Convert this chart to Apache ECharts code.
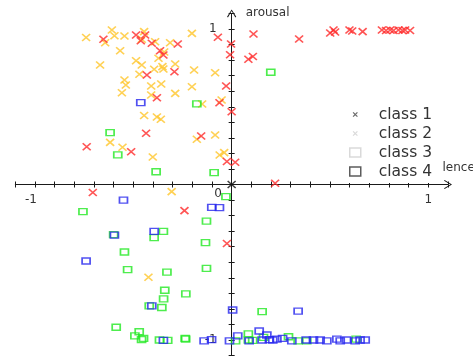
<!DOCTYPE html>
<html><head><meta charset="utf-8">
<script src="https://cdn.jsdelivr.net/npm/echarts@6/dist/echarts.min.js"></script>
<style>html,body{margin:0;padding:0;background:#fff}#c{width:473px;height:358px}</style>
</head><body><div id="c"></div>
<script>
// class 1 (red crosses)
const class1 = [
[-0.652,0.934],[-0.486,0.961],[-0.440,0.961],[-0.462,0.925],[-0.406,0.908],[-0.274,0.904],[-0.364,0.860],[-0.347,0.833],
[-0.291,0.725],[-0.431,0.704],[-0.070,0.947],[-0.003,0.904],[-0.008,0.835],[-0.028,0.633],[-0.380,0.558],[-0.062,0.526],
[0.000,0.468],[-0.435,0.329],[-0.737,0.243],[-0.511,0.211],[-0.155,0.312],[-0.024,0.148],[0.018,0.143],[-0.706,-0.051],
[-0.240,-0.168],[-0.024,-0.379],[0.221,0.008],[0.111,0.968],[0.085,0.805],[0.108,0.823],[0.343,0.936],[0.501,0.974],
[0.518,0.994],[0.526,0.981],[0.599,0.994],[0.613,0.987],[0.666,0.983],[0.764,0.994],[0.785,0.990],[0.806,0.994],
[0.823,0.990],[0.848,0.994],[0.868,0.990],[0.882,0.994],[0.907,0.990]
];
// black cross at the origin
const originMark = [[0,0]];
// class 2 (orange crosses)
const class2 = [
[-0.740,0.945],[-0.609,0.994],[-0.596,0.957],[-0.643,0.912],[-0.545,0.955],[-0.445,0.983],[-0.457,0.934],[-0.389,0.918],
[-0.313,0.912],[-0.202,0.972],[-0.567,0.860],[-0.669,0.768],[-0.486,0.796],[-0.457,0.768],[-0.372,0.812],[-0.394,0.741],
[-0.352,0.758],[-0.287,0.775],[-0.469,0.709],[-0.545,0.672],[-0.538,0.640],[-0.558,0.590],[-0.409,0.633],[-0.358,0.646],
[-0.287,0.586],[-0.202,0.629],[-0.191,0.736],[-0.084,0.719],[-0.409,0.576],[-0.051,0.543],[-0.150,0.518],[-0.445,0.444],
[-0.380,0.434],[-0.360,0.419],[-0.618,0.271],[-0.555,0.239],[-0.401,0.177],[-0.177,0.291],[-0.084,0.318],[-0.061,0.190],
[-0.038,0.205],[-0.305,-0.046],[-0.423,-0.597],[-0.343,0.852],[-0.347,0.743]
];
// class 3 (green squares)
const class3 = [
[-0.177,0.518],[0.199,0.722],[-0.618,0.333],[-0.579,0.190],[-0.384,0.082],[-0.089,0.077],[-0.029,-0.078],[-0.756,-0.175],
[-0.128,-0.235],[-0.600,-0.322],[-0.347,-0.302],[-0.394,-0.342],[-0.133,-0.374],[-0.545,-0.434],[-0.128,-0.540],[-0.529,-0.548],
[-0.329,-0.564],[-0.340,-0.680],[-0.233,-0.704],[-0.346,-0.736],[-0.419,-0.780],[-0.355,-0.791],[-0.587,-0.918],[-0.470,-0.947],
[-0.492,-0.974],[-0.458,-0.997],[-0.448,-0.990],[-0.367,-1.000],[-0.325,-1.003],[-0.236,-0.989],[-0.234,-0.994],[0.020,-1.005],
[0.155,-0.818],[0.085,-0.961],[0.085,-1.000],[0.107,-1.003],[0.162,-0.983],[0.289,-0.979],[0.338,-1.005],[0.633,-0.994],
[0.382,-1.005]
];
// class 4 (blue squares)
const class4 = [
[-0.462,0.526],[-0.550,-0.100],[-0.101,-0.147],[-0.062,-0.149],[-0.596,-0.325],[-0.394,-0.302],[-0.740,-0.492],[-0.406,-0.780],
[0.005,-0.807],[-0.347,-1.003],[-0.140,-1.005],[-0.102,-0.997],[-0.011,-1.005],[0.031,-0.973],[0.338,-0.814],[0.089,-1.005],
[0.140,-0.942],[0.155,-1.000],[0.179,-0.968],[0.192,-0.997],[0.209,-1.000],[0.230,-0.995],[0.259,-0.990],[0.306,-1.005],
[0.379,-1.000],[0.416,-1.000],[0.450,-1.000],[0.484,-1.005],[0.535,-0.994],[0.552,-1.005],[0.584,-1.000],[0.628,-1.005],
[0.653,-1.000],[0.679,-1.000]
];
const classNames = ['class 1','class 2','class 3','class 4'];
const xTickLabels = {'-1':'-1','0':'0','1':'1'};
const yTickLabels = {'-1':'-1','1':'1'};

const X_SYM = 'path://M0,0L10,10M10,0L0,10';
const X_ICON = 'path://M0,0M10,10M2.6,2.6L7.4,7.4M7.4,2.6L2.6,7.4';
const ARROW = 'path://M0,8L5,0L10,8L9,8.7L5,1.8L1,8.7Z';
const FONT = 'DejaVu Sans';
const AX = '#1a1a1a';

const W = 473, H = 358;
const G = {left:15.3, right:25, top:13.45, bottom:2.45};
const XMIN = -1.1, XMAX = 1.1, YMIN = -1.1, YMAX = 1.1;
// offsets that bring the axes to the zero lines (computed from the grid)
const gw = W - G.left - G.right, gh = H - G.top - G.bottom;
const x0px = G.left + (0 - XMIN) / (XMAX - XMIN) * gw;
const y0px = G.top + (YMAX - 0) / (YMAX - YMIN) * gh;
const offBottom = -(H - G.bottom - y0px);
const offTop = -(y0px - G.top);
const offLeft = -(x0px - G.left);
const offRight = -(W - G.right - x0px);

function keyOf(v){ const r = Math.round(v*10)/10; return String(r === 0 ? 0 : r); }

const chart = echarts.init(document.getElementById('c'));
const baseAxis = {type:'value', min:XMIN, max:XMAX, interval:0.1, splitLine:{show:false}};
chart.setOption({
  animation:false,
  backgroundColor:'#fff',
  grid:{left:G.left, right:G.right, top:G.top, bottom:G.bottom, containLabel:false, outerBoundsMode:'none'},
  xAxis:[
    Object.assign({}, baseAxis, {
      position:'bottom', offset:offBottom,
      axisLine:{onZero:false, lineStyle:{color:AX,width:1}, symbol:['none',ARROW], symbolSize:[10,8]},
      axisTick:{show:true, length:3, lineStyle:{color:AX}},
      axisLabel:{margin:15.5, verticalAlign:'middle', fontFamily:FONT, fontSize:12, color:'#333',
        formatter:v=>{const k=keyOf(v); if(k==='0') return '{z|0}'; if(k==='-1') return '{m|-1}'; return xTickLabels[k]||'';},
        rich:{z:{fontFamily:FONT,fontSize:12,color:'#333',padding:[0,27,12,0]}, m:{fontFamily:FONT,fontSize:12,color:'#333',padding:[0,8,0,0]}}},
      name:'valence', nameLocation:'end', nameGap:-20,
      nameTextStyle:{fontFamily:FONT, fontSize:12, color:'#333', verticalAlign:'bottom', align:'left', padding:[0,0,11,0]}
    }),
    Object.assign({}, baseAxis, {
      position:'top', offset:offTop,
      axisLine:{show:false, onZero:false},
      axisTick:{show:true, length:3, lineStyle:{color:AX}},
      axisLabel:{show:false}
    })
  ],
  yAxis:[
    Object.assign({}, baseAxis, {
      position:'left', offset:offLeft,
      axisLine:{onZero:false, lineStyle:{color:AX,width:1}, symbol:['none',ARROW], symbolSize:[10,8]},
      axisTick:{show:true, length:3, lineStyle:{color:AX}},
      axisLabel:{margin:15, fontFamily:FONT, fontSize:12, color:'#333', formatter:v=>yTickLabels[keyOf(v)]||''},
      name:'arousal', nameLocation:'end', nameGap:1,
      nameTextStyle:{fontFamily:FONT, fontSize:12, color:'#333', align:'left', verticalAlign:'middle', padding:[0,0,0,14]}
    }),
    Object.assign({}, baseAxis, {
      position:'right', offset:offRight,
      axisLine:{show:false, onZero:false},
      axisTick:{show:true, length:3, lineStyle:{color:AX}},
      axisLabel:{show:false}
    })
  ],
  legend:{
    orient:'vertical', left:344, top:100, padding:[5,10,2,5], backgroundColor:'#fff',
    itemWidth:11, itemHeight:9, itemGap:0, selectedMode:false, z:10,
    textStyle:{fontFamily:FONT, fontSize:15.5, color:'#333', lineHeight:19, padding:[0,0,0,13]},
    data:[
      {name:classNames[0], icon:X_ICON, itemStyle:{color:'transparent', borderColor:'#444', borderWidth:1.2}},
      {name:classNames[1], icon:X_ICON, itemStyle:{color:'transparent', borderColor:'#cfcfcf', borderWidth:1.2}},
      {name:classNames[2], icon:'rect', itemStyle:{color:'transparent', borderColor:'#cfcfcf', borderWidth:1.5}},
      {name:classNames[3], icon:'rect', itemStyle:{color:'transparent', borderColor:'#333', borderWidth:1.5}}
    ]
  },
  series:[
    {name:classNames[1], type:'scatter', data:class2, symbol:X_SYM, symbolSize:[8,7],
      itemStyle:{color:'transparent', borderColor:'#ffc52a', borderWidth:1.6}},
    {name:classNames[0], type:'scatter', data:class1, symbol:X_SYM, symbolSize:[8,7],
      itemStyle:{color:'transparent', borderColor:'#ff2a2a', borderWidth:1.6}},
    {name:classNames[2], type:'scatter', data:class3, symbol:'rect', symbolSize:[8,6],
      itemStyle:{color:'transparent', borderColor:'#22e822', borderWidth:1.5}},
    {name:classNames[3], type:'scatter', data:class4, symbol:'rect', symbolSize:[8,6],
      itemStyle:{color:'transparent', borderColor:'#2626ee', borderWidth:1.5}},
    {name:'origin', type:'scatter', data:originMark, symbol:X_SYM, symbolSize:[8,7],
      itemStyle:{color:'transparent', borderColor:'#111', borderWidth:1.4}}
  ]
});
</script></body></html>
